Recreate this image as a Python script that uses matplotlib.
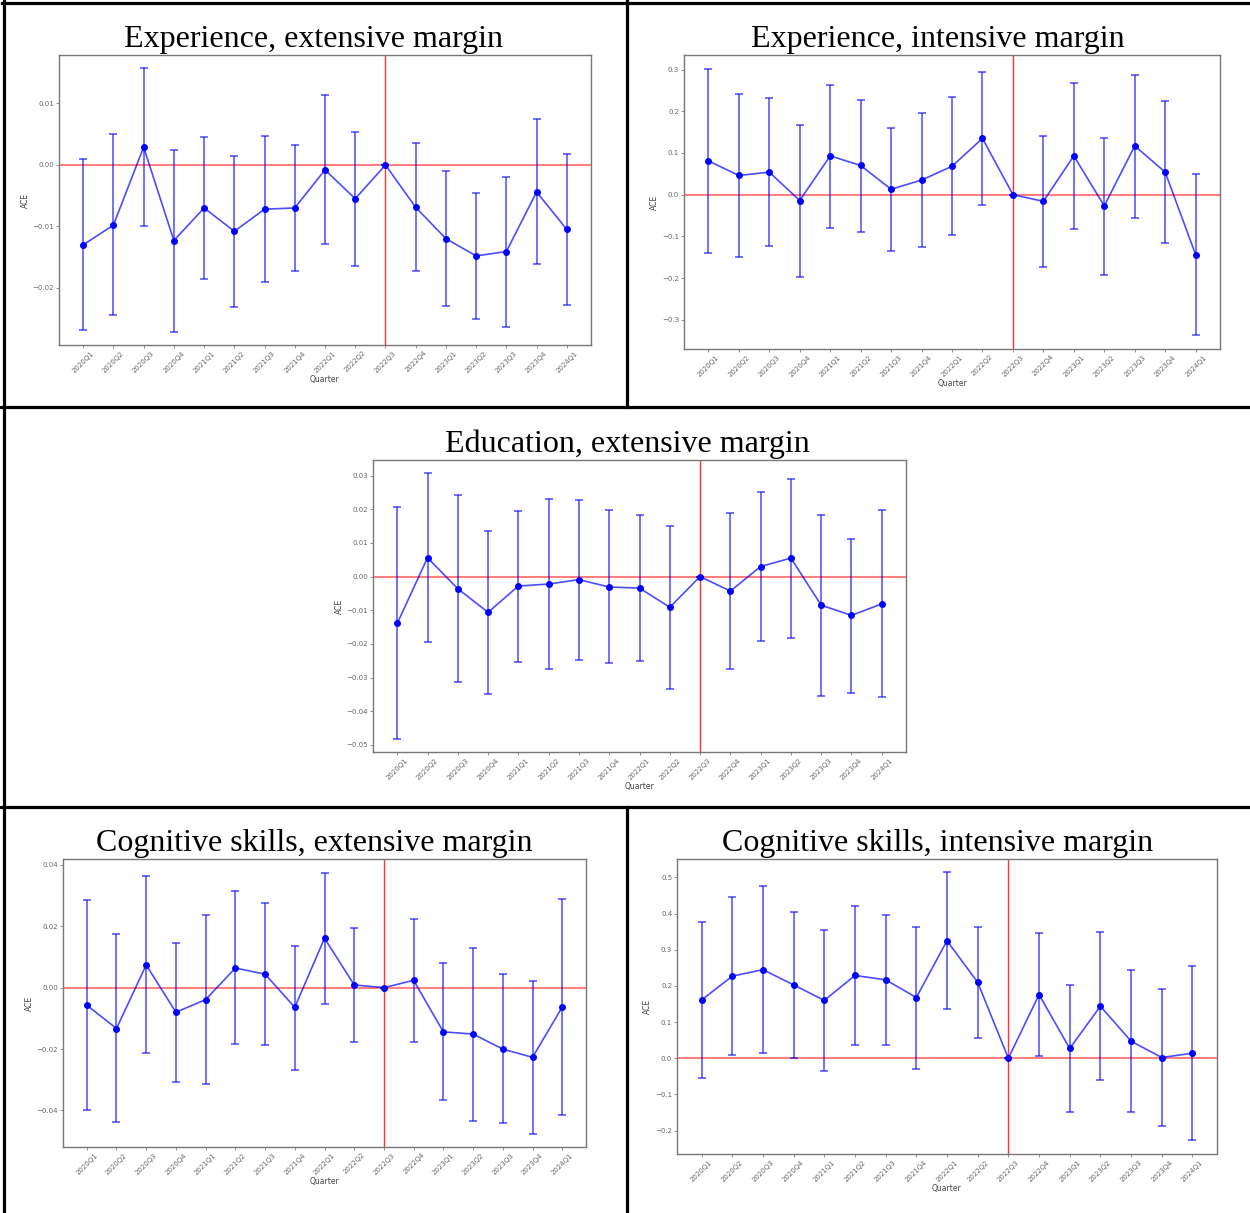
import numpy as np
import matplotlib
matplotlib.use('Agg')
import matplotlib.pyplot as plt
from matplotlib.lines import Line2D

quarters = ['2020Q1', '2020Q2', '2020Q3', '2020Q4', '2021Q1', '2021Q2', '2021Q3', '2021Q4',
            '2022Q1', '2022Q2', '2022Q3', '2022Q4', '2023Q1', '2023Q2', '2023Q3', '2023Q4', '2024Q1']
ref_quarter = '2022Q3'  # reference period, marked by the red vertical line

#experience, extensive margin
exp_ext = [-0.0130, -0.0098, 0.0029, -0.0123, -0.0070, -0.0108, -0.0072, -0.0070, -0.0008,
           -0.0055, 0.0, -0.0069, -0.0120, -0.0148, -0.0141, -0.0044, -0.0105]
exp_ext_lo = [-0.0269, -0.0245, -0.0100, -0.0272, -0.0185, -0.0232, -0.0190, -0.0172, -0.0128,
              -0.0164, 0.0, -0.0173, -0.0230, -0.0251, -0.0263, -0.0161, -0.0228]
exp_ext_hi = [0.0009, 0.0050, 0.0158, 0.0025, 0.0046, 0.0015, 0.0047, 0.0033, 0.0114,
              0.0053, 0.0, 0.0035, -0.0010, -0.0045, -0.0019, 0.0075, 0.0018]

#experience, intensive margin
exp_int = [0.081, 0.046, 0.054, -0.014, 0.093, 0.070, 0.013, 0.035, 0.068,
           0.135, 0.0, -0.016, 0.093, -0.027, 0.117, 0.054, -0.144]
exp_int_lo = [-0.140, -0.149, -0.124, -0.197, -0.079, -0.090, -0.134, -0.125, -0.097,
              -0.024, 0.0, -0.173, -0.082, -0.193, -0.056, -0.115, -0.337]
exp_int_hi = [0.302, 0.241, 0.231, 0.168, 0.264, 0.228, 0.161, 0.195, 0.234,
              0.295, 0.0, 0.140, 0.268, 0.137, 0.288, 0.224, 0.050]

#education, extensive margin
edu_ext = [-0.0139, 0.0056, -0.0036, -0.0106, -0.0028, -0.0022, -0.0009, -0.0031, -0.0034,
           -0.0091, 0.0, -0.0043, 0.0030, 0.0055, -0.0085, -0.0115, -0.0081]
edu_ext_lo = [-0.0481, -0.0193, -0.0313, -0.0349, -0.0254, -0.0273, -0.0247, -0.0257, -0.0250,
              -0.0334, 0.0, -0.0275, -0.0191, -0.0182, -0.0354, -0.0345, -0.0358]
edu_ext_hi = [0.0206, 0.0307, 0.0242, 0.0136, 0.0196, 0.0230, 0.0228, 0.0197, 0.0182,
              0.0151, 0.0, 0.0190, 0.0251, 0.0291, 0.0184, 0.0113, 0.0197]

#cognitive skills, extensive margin
cog_ext = [-0.0057, -0.0133, 0.0074, -0.0080, -0.0039, 0.0064, 0.0044, -0.0064, 0.0161,
           0.0009, 0.0, 0.0024, -0.0144, -0.0151, -0.0200, -0.0227, -0.0063]
cog_ext_lo = [-0.0397, -0.0439, -0.0214, -0.0308, -0.0314, -0.0185, -0.0188, -0.0267, -0.0052,
              -0.0178, 0.0, -0.0178, -0.0367, -0.0433, -0.0442, -0.0476, -0.0414]
cog_ext_hi = [0.0285, 0.0174, 0.0363, 0.0147, 0.0236, 0.0315, 0.0275, 0.0137, 0.0375,
              0.0196, 0.0, 0.0224, 0.0082, 0.0130, 0.0044, 0.0023, 0.0289]

#cognitive skills, intensive margin
cog_int = [0.161, 0.227, 0.245, 0.203, 0.160, 0.229, 0.217, 0.168, 0.325,
           0.210, 0.0, 0.176, 0.027, 0.144, 0.047, 0.002, 0.014]
cog_int_lo = [-0.054, 0.008, 0.015, 0.001, -0.034, 0.037, 0.038, -0.030, 0.136,
              0.055, 0.0, 0.007, -0.150, -0.060, -0.148, -0.188, -0.227]
cog_int_hi = [0.376, 0.447, 0.476, 0.404, 0.354, 0.422, 0.396, 0.364, 0.514,
              0.364, 0.0, 0.346, 0.202, 0.348, 0.243, 0.191, 0.255]

titles = ['Experience, extensive margin', 'Experience, intensive margin',
          'Education, extensive margin',
          'Cognitive skills, extensive margin', 'Cognitive skills, intensive margin']


def draw_panel(ax, est, lo, hi, ylim, yticks, yfmt):
    x = np.arange(len(quarters))
    est = np.array(est)
    yerr = [est - np.array(lo), np.array(hi) - est]
    ax.errorbar(x, est, yerr=yerr, fmt='none', ecolor='blue', alpha=0.6,
                elinewidth=1.3, capsize=3, capthick=1.3, zorder=2)
    ax.plot(x, est, color='blue', alpha=0.7, lw=1.2, zorder=3)
    ax.plot(x, est, 'o', color='blue', ms=4, zorder=4)
    ax.axhline(0, color='red', alpha=0.5, lw=1.5, zorder=1)
    ax.axvline(quarters.index(ref_quarter), color='red', alpha=0.8, lw=1, zorder=1)
    ax.set_xlim(-0.8, len(quarters) - 0.2)
    ax.set_ylim(ylim)
    ax.set_xticks(x)
    ax.set_xticklabels(quarters, rotation=45, fontsize=5, color='#444444')
    ax.set_yticks(yticks)
    ax.set_yticklabels([yfmt.format(v).replace('-', '\u2212') for v in yticks],
                       fontsize=5, color='#444444')
    ax.tick_params(length=2, width=0.5, colors='#666666', pad=1.5)
    ax.set_xlabel('Quarter', fontsize=5.5, color='#444444', labelpad=1)
    ax.set_ylabel('ACE', fontsize=5.5, color='#444444', labelpad=2)
    for s in ax.spines.values():
        s.set_color('#777777')
        s.set_linewidth(1)


fig = plt.figure(figsize=(12.5, 12.13), dpi=100)

ax1 = fig.add_axes([0.0472, 0.7156, 0.4256, 0.2391])
draw_panel(ax1, exp_ext, exp_ext_lo, exp_ext_hi, (-0.0293, 0.0179),
           [-0.02, -0.01, 0.0, 0.01], '{:.2f}')
ax2 = fig.add_axes([0.5472, 0.7123, 0.4288, 0.2424])
draw_panel(ax2, exp_int, exp_int_lo, exp_int_hi, (-0.370, 0.335),
           [-0.3, -0.2, -0.1, 0.0, 0.1, 0.2, 0.3], '{:.1f}')
ax3 = fig.add_axes([0.2984, 0.3800, 0.4264, 0.2407])
draw_panel(ax3, edu_ext, edu_ext_lo, edu_ext_hi, (-0.0521, 0.0346),
           [-0.05, -0.04, -0.03, -0.02, -0.01, 0.0, 0.01, 0.02, 0.03], '{:.2f}')
ax4 = fig.add_axes([0.0504, 0.0544, 0.4184, 0.2374])
draw_panel(ax4, cog_ext, cog_ext_lo, cog_ext_hi, (-0.0519, 0.0419),
           [-0.04, -0.02, 0.0, 0.02, 0.04], '{:.2f}')
ax5 = fig.add_axes([0.5416, 0.0486, 0.4320, 0.2432])
draw_panel(ax5, cog_int, cog_int_lo, cog_int_hi, (-0.265, 0.551),
           [-0.2, -0.1, 0.0, 0.1, 0.2, 0.3, 0.4, 0.5], '{:.1f}')

#titles (serif, like the document they came from)
title_pos = [(314, 39), (938, 39), (627, 444), (314, 844), (938, 844)]
for t, (px, py) in zip(titles, title_pos):
    fig.text(px / 1250, 1 - py / 1213, t, ha='center', va='center',
             family='Liberation Serif', fontsize=23, color='black')

#table borders
W, H = 1250, 1213
def hline(y, x0=0, x1=W):
    fig.add_artist(Line2D([x0 / W, x1 / W], [1 - y / H, 1 - y / H], color='black', lw=2.3))
def vline(x, y0, y1):
    fig.add_artist(Line2D([x / W, x / W], [1 - y0 / H, 1 - y1 / H], color='black', lw=2.3))

hline(2.5, 2)
hline(407)
hline(807)
vline(3.5, 1, H)
vline(627, 1, 407)
vline(627, 807, H)

fig.savefig('out.png', dpi=100)
